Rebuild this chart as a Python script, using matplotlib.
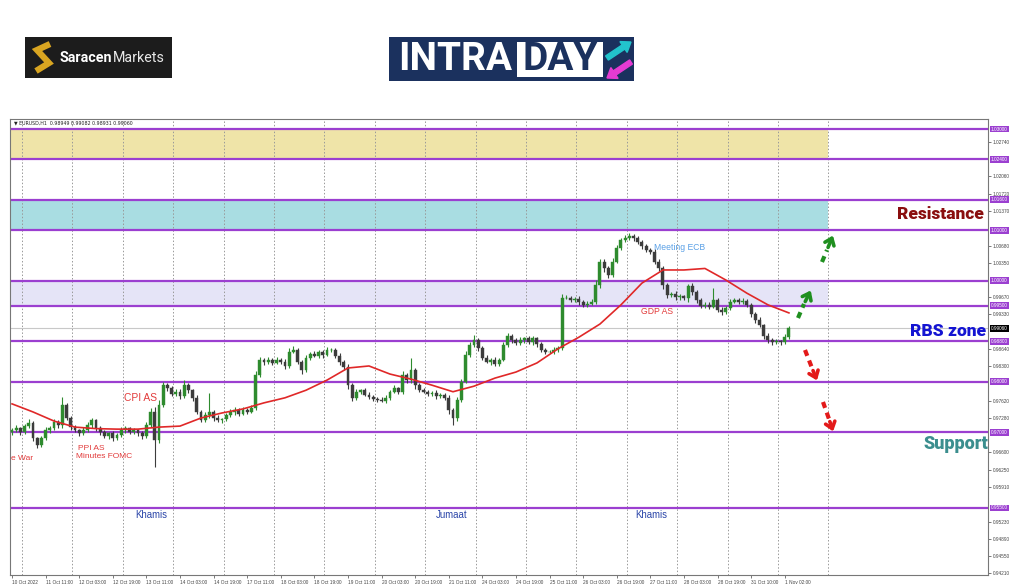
import numpy as np
import matplotlib.pyplot as plt
from matplotlib.patches import Rectangle, FancyArrow
from matplotlib.transforms import blended_transform_factory

# EURUSD candles (one value per 2 hours, 10 Oct - 1 Nov 2022)
first_open = 0.9700
closes = [
    0.9704, 0.9708, 0.9700, 0.9712, 0.9718, 0.9688, 0.9675, 0.9688, 0.9704, 0.9708,
    0.9720, 0.9714, 0.9754, 0.9728, 0.9710, 0.9704, 0.9698, 0.9704, 0.9714, 0.9724,
    0.9708, 0.9700, 0.9692, 0.9698, 0.9688, 0.9694, 0.9704, 0.9708, 0.9700, 0.9704,
    0.9698, 0.9692, 0.9714, 0.9740, 0.9684, 0.9754, 0.9793, 0.9787, 0.9776, 0.9780,
    0.9772, 0.9793, 0.9783, 0.9768, 0.9740, 0.9724, 0.9734, 0.9740, 0.9728, 0.9724,
    0.9726, 0.9734, 0.9740, 0.9744, 0.9736, 0.9744, 0.9740, 0.9748, 0.9813, 0.9843,
    0.9839, 0.9843, 0.9837, 0.9843, 0.9839, 0.9831, 0.9859, 0.9863, 0.9839, 0.9823,
    0.9847, 0.9855, 0.9851, 0.9859, 0.9853, 0.9863, 0.9863, 0.9851, 0.9839, 0.9829,
    0.9793, 0.9768, 0.9780, 0.9783, 0.9774, 0.9770, 0.9766, 0.9764, 0.9762, 0.9768,
    0.9780, 0.9787, 0.9780, 0.9813, 0.9803, 0.9823, 0.9793, 0.9783, 0.9780, 0.9776,
    0.9778, 0.9772, 0.9774, 0.9768, 0.9744, 0.9728, 0.9764, 0.9800, 0.9853, 0.9873,
    0.9882, 0.9867, 0.9847, 0.9839, 0.9843, 0.9835, 0.9843, 0.9873, 0.9890, 0.9882,
    0.9876, 0.9882, 0.9886, 0.9878, 0.9886, 0.9874, 0.9863, 0.9859, 0.9859, 0.9863,
    0.9867, 0.9966, 0.9966, 0.9962, 0.9964, 0.9958, 0.9952, 0.9954, 0.9958, 0.9991,
    1.0037, 1.0025, 1.0011, 1.0037, 1.0065, 1.0080, 1.0084, 1.0088, 1.0084, 1.0076,
    1.0068, 1.0061, 1.0057, 1.0037, 1.0025, 0.9991, 0.9971, 0.9973, 0.9967, 0.9969,
    0.9966, 0.9989, 0.9977, 0.9962, 0.9950, 0.9952, 0.9948, 0.9962, 0.9942, 0.9938,
    0.9946, 0.9958, 0.9962, 0.9958, 0.9960, 0.9952, 0.9934, 0.9922, 0.9912, 0.9890,
    0.9882, 0.9878, 0.9880, 0.9878, 0.9888, 0.9906,
]
# wick length above / below the body, in pips
up_pips = [
    4, 6, 3, 5, 8, 4, 3, 5, 6, 4,
    7, 5, 16, 4, 3, 5, 3, 6, 7, 4,
    3, 4, 5, 3, 4, 5, 6, 4, 3, 5,
    3, 4, 6, 8, 10, 9, 6, 5, 4, 6,
    5, 10, 4, 3, 5, 4, 6, 38, 4, 5,
    3, 4, 6, 5, 4, 6, 3, 5, 8, 6,
    4, 5, 3, 6, 4, 5, 8, 8, 4, 3,
    5, 4, 6, 3, 4, 6, 3, 4, 5, 3,
    6, 4, 5, 3, 4, 5, 3, 4, 6, 5,
    4, 6, 3, 8, 4, 24, 3, 4, 5, 3,
    4, 5, 3, 4, 6, 4, 5, 6, 8, 6,
    10, 5, 4, 6, 3, 5, 4, 6, 6, 5,
    4, 6, 3, 5, 4, 3, 5, 4, 3, 6,
    4, 8, 5, 4, 3, 5, 4, 6, 5, 10,
    6, 5, 4, 8, 6, 5, 6, 6, 5, 4,
    5, 4, 3, 6, 5, 4, 5, 4, 6, 5,
    3, 4, 6, 5, 4, 5, 5, 23, 4, 5,
    3, 5, 4, 3, 6, 4, 3, 4, 5, 3,
    6, 4, 5, 3, 6, 5,
]
down_pips = [
    5, 4, 6, 3, 4, 6, 6, 4, 3, 5,
    4, 6, 5, 4, 6, 3, 5, 4, 3, 6,
    5, 6, 4, 5, 6, 4, 3, 5, 4, 3,
    6, 5, 4, 3, 53, 5, 4, 6, 5, 4,
    6, 4, 5, 6, 5, 4, 3, 5, 6, 4,
    5, 3, 4, 6, 5, 3, 4, 3, 5, 4,
    6, 4, 5, 3, 4, 6, 4, 3, 5, 8,
    4, 5, 3, 4, 6, 3, 5, 4, 6, 5,
    8, 6, 4, 5, 3, 4, 5, 4, 3, 5,
    4, 3, 5, 4, 6, 5, 8, 4, 3, 5,
    4, 6, 5, 4, 8, 14, 5, 4, 3, 5,
    4, 6, 5, 3, 6, 4, 5, 3, 4, 5,
    4, 3, 5, 4, 6, 5, 4, 5, 3, 4,
    5, 4, 3, 5, 4, 6, 5, 4, 3, 4,
    5, 8, 6, 4, 3, 5, 4, 3, 5, 4,
    6, 5, 4, 5, 6, 8, 5, 4, 6, 5,
    4, 8, 5, 6, 4, 5, 4, 3, 5, 6,
    4, 5, 3, 4, 5, 4, 6, 5, 4, 6,
    5, 6, 4, 5, 4, 3,
]
# red moving average, read every 5th candle
ma_step = 5
ma_vals = [0.9756, 0.9740, 0.9722, 0.9710, 0.9707, 0.9706, 0.9706, 0.9710, 0.9712, 0.9728,
           0.9738, 0.9746, 0.9758, 0.9768, 0.9783, 0.9803, 0.9827, 0.9831, 0.9815, 0.9805,
           0.9793, 0.9780, 0.9791, 0.9807, 0.9819, 0.9837, 0.9865, 0.9888, 0.9914, 0.9952,
           0.9995, 1.0021, 1.0021, 1.0024, 1.0001, 0.9975, 0.9952, 0.9936]

levels = [1.0300, 1.0240, 1.0160, 1.0100, 1.0000, 0.9950, 0.9880, 0.9800, 0.9700, 0.9550]
level_labels = ['1.03000', '1.02400', '1.01600', '1.01000', '1.00000',
                '0.99500', '0.98800', '0.98000', '0.97000', '0.95500']
zones = [(1.0240, 1.0300, '#efe4a8'), (1.0100, 1.0160, '#a9dde2'), (0.9950, 1.0000, '#e5e4f7')]
last_price = 0.9906
price_ticks = [1.02740, 1.02060, 1.01720, 1.01370, 1.00680, 1.00350, 0.99670, 0.99330,
               0.98640, 0.98300, 0.97620, 0.97280, 0.96600, 0.96250, 0.95910, 0.95230,
               0.94890, 0.94550, 0.94210]
time_labels = ['10 Oct 2022', '11 Oct 11:00', '12 Oct 03:00', '12 Oct 19:00', '13 Oct 11:00',
               '14 Oct 03:00', '14 Oct 19:00', '17 Oct 11:00', '18 Oct 03:00', '18 Oct 19:00',
               '19 Oct 11:00', '20 Oct 03:00', '20 Oct 19:00', '21 Oct 11:00', '24 Oct 03:00',
               '24 Oct 19:00', '25 Oct 11:00', '26 Oct 03:00', '26 Oct 19:00', '27 Oct 11:00',
               '28 Oct 03:00', '28 Oct 19:00', '31 Oct 10:00', '1 Nov 02:00']

W, H = 1024, 587
PURPLE = '#9b3fd0'

fig = plt.figure(figsize=(W / 100, H / 100), dpi=100)
fig.patch.set_facecolor('white')

# chart area (pixel box 10..988 x 119..575)
ax = fig.add_axes([10 / W, 1 - 575 / H, 978 / W, 456 / H])
ax.set_xlim(-0.48, 232.4)
ax.set_ylim(0.94173, 1.03198)

n = len(closes)
x = np.arange(n)
c = np.array(closes)
o = np.concatenate([[first_open], c[:-1]])
hi = np.maximum(o, c) + np.array(up_pips) * 1e-4
lo = np.minimum(o, c) - np.array(down_pips) * 1e-4
bull = c >= o
cols = np.where(bull, '#2e8b2e', '#3c3c3c')

# zones and levels
zone_end = 194.4
for z0, z1, zc in zones:
    ax.add_patch(Rectangle((-1, z0), zone_end + 1, z1 - z0, facecolor=zc, edgecolor='none', zorder=0))
for g in np.arange(2.38, 200, 12):
    ax.axvline(g, color='#999999', lw=0.7, ls=(0, (1.5, 2)), zorder=1)
ax.axhline(last_price, color='#c8c8c8', lw=0.8, zorder=1)
for lv in levels:
    ax.axhline(lv, color=PURPLE, lw=1.6, zorder=2)

# candles
ax.vlines(x, lo, hi, colors=cols, lw=0.8, zorder=3)
ax.bar(x, np.maximum(np.abs(c - o), 0.00004), bottom=np.minimum(o, c), width=0.7,
       color=cols, edgecolor=cols, lw=0.3, zorder=4)
ax.plot(np.arange(0, n, ma_step)[:len(ma_vals)], ma_vals, color='#e02828', lw=1.2, zorder=5)

# axes styling
for s in ax.spines.values():
    s.set_color('#777777')
    s.set_linewidth(0.8)
ax.yaxis.tick_right()
ax.set_yticks(price_ticks)
ax.set_yticklabels(['%.5f' % p for p in price_ticks], fontsize=3.4, color='#444444',
                   family='Liberation Sans')
ax.tick_params(axis='y', length=2, width=0.5, pad=1.5, colors='#444444')
ax.set_xticks(np.arange(0, n, 8)[:len(time_labels)])
ax.set_xticklabels(time_labels, fontsize=3.4, color='#444444', family='Liberation Sans', ha='left')
ax.tick_params(axis='x', length=2, width=0.5, pad=1.5, colors='#444444')

tr = blended_transform_factory(ax.transAxes, ax.transData)
for lv, lab in zip(levels, level_labels):
    ax.text(1.003, lv, lab, transform=tr, fontsize=3.4, color='white', va='center', ha='left',
            family='Liberation Sans',
            bbox=dict(boxstyle='square,pad=0.2', fc=PURPLE, ec='none'), clip_on=False)
ax.text(1.003, last_price, '%.5f' % last_price, transform=tr, fontsize=3.4, color='white',
        va='center', ha='left', family='Liberation Sans',
        bbox=dict(boxstyle='square,pad=0.2', fc='black', ec='none'), clip_on=False)
ax.text(0.004, 0.996, '\u25bc EURUSD,H1  0.98949 0.99082 0.98931 0.99060', transform=ax.transAxes,
        fontsize=3.4, va='top', ha='left', color='#222222')

# overlay in pixel coordinates for logos and annotations
ov = fig.add_axes([0, 0, 1, 1])
ov.set_xlim(0, W)
ov.set_ylim(H, 0)
ov.axis('off')
ov.patch.set_alpha(0)

# Saracen Markets logo
ov.add_patch(Rectangle((25, 37), 147, 41, facecolor='#1c1c1c', edgecolor='none'))
ov.plot([50, 37, 49, 36], [44, 50, 63, 71], color='#d9a521', lw=4.5, solid_joinstyle='miter',
        solid_capstyle='butt')
t1 = ov.text(60, 58, 'Saracen', fontsize=10.3, color='white', weight='bold', family='Roboto',
             va='center', ha='left')
ov.annotate('Markets', xy=(1, 0.5), xycoords=t1, va='center', ha='left', fontsize=10.3,
            color='#e8e8e8', family='Roboto')

# INTRADAY logo
ov.add_patch(Rectangle((389, 37), 245, 44, facecolor='#1b315e', edgecolor='none'))
ov.add_patch(Rectangle((517, 42), 86, 35, facecolor='white', edgecolor='none'))
ov.text(398, 60, 'INTRA', fontsize=28, color='white', weight='bold', family='Roboto',
        va='center', ha='left')
ov.text(560, 60, 'DAY', fontsize=28, color='#1b315e', weight='bold', family='Roboto',
        va='center', ha='center')
ov.add_patch(FancyArrow(607, 58, 24, -16, width=5, head_width=13, head_length=9,
                        length_includes_head=True, color='#22c3cc'))
ov.add_patch(FancyArrow(631, 62, -24, 16, width=5, head_width=13, head_length=9,
                        length_includes_head=True, color='#e63bd2'))

# zone labels
ov.text(984, 214, 'Resistance', fontsize=12.5, color='#8a0f0f', weight='heavy', family='Roboto',
        ha='right', va='center')
ov.text(986, 331, 'RBS zone', fontsize=12.5, color='#1414d2', weight='heavy', family='Roboto',
        ha='right', va='center')
ov.text(988, 444, 'Support', fontsize=13, color='#3b8e8e', weight='heavy', family='Roboto',
        ha='right', va='center')

# event notes
red = '#e23b3b'
ov.text(124, 398, 'CPI AS', fontsize=7.4, color=red, family='Liberation Sans', va='center')
ov.text(78, 448, 'PPI AS', fontsize=6, color=red, family='Liberation Sans', va='center')
ov.text(76, 457, 'Minutes FOMC', fontsize=6, color=red, family='Liberation Sans', va='center')
ov.text(11, 458, 'e War', fontsize=6, color=red, family='Liberation Sans', va='center')
ov.text(654, 247, 'Meeting ECB', fontsize=6.2, color='#5aa0e6', family='Liberation Sans',
        va='center')
ov.text(641, 311, 'GDP AS', fontsize=6.2, color=red, family='Liberation Sans', va='center')
for tx, lab in [(135, 'Khamis'), (436, 'Jumaat'), (635, 'Khamis')]:
    ov.text(tx, 515, lab, fontsize=6.9, color='#2a45a8', family='Liberation Sans', va='center')

# dashed direction arrows
arrows = [
    ((798, 318), (804, 304), (812, 288), '#1f8f1f'),
    ((822, 262), (827, 250), (834, 233), '#1f8f1f'),
    ((805, 350), (812, 368), (818, 383), '#e31a1a'),
    ((823, 402), (829, 419), (834, 434), '#e31a1a'),
]
for p0, p1, tip, col in arrows:
    ov.plot([p0[0], p1[0]], [p0[1], p1[1]], color=col, lw=3, ls=(0, (1.5, 1.2)),
            solid_capstyle='butt')
    ov.annotate('', xy=tip, xytext=p1,
                arrowprops=dict(arrowstyle='->,head_length=0.45,head_width=0.35', color=col, lw=2.6))

fig.savefig('out.png', dpi=100, facecolor='white')
